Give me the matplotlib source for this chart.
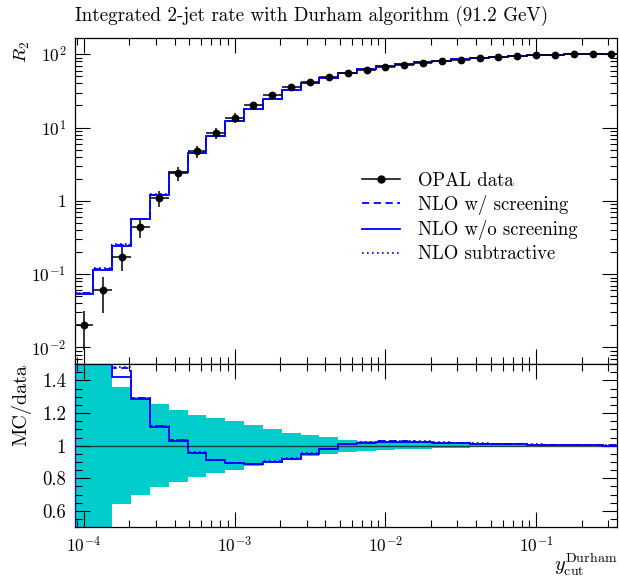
import numpy as np
import matplotlib
matplotlib.use("Agg")
import matplotlib.pyplot as plt
from matplotlib.lines import Line2D
from matplotlib.ticker import FixedLocator, MultipleLocator, LogLocator, NullFormatter

plt.rcParams['font.family'] = 'serif'
plt.rcParams['font.serif'] = ['cmr10']
plt.rcParams['mathtext.fontset'] = 'cm'
plt.rcParams['axes.unicode_minus'] = False
plt.rcParams['axes.formatter.use_mathtext'] = True

# y_cut points (8 per decade)
ycut = [1.00e-4, 1.33e-4, 1.78e-4, 2.37e-4, 3.16e-4, 4.22e-4, 5.62e-4, 7.50e-4,
        1.00e-3, 1.33e-3, 1.78e-3, 2.37e-3, 3.16e-3, 4.22e-3, 5.62e-3, 7.50e-3,
        1.00e-2, 1.33e-2, 1.78e-2, 2.37e-2, 3.16e-2, 4.22e-2, 5.62e-2, 7.50e-2,
        1.00e-1, 1.33e-1, 1.78e-1, 2.37e-1, 3.16e-1]

# OPAL data R2 (%)
data = [0.0203, 0.061, 0.172, 0.44, 1.09, 2.39, 4.76, 8.39, 13.7, 20.0,
        27.4, 35.2, 42.3, 48.3, 55.2, 61.2, 66.6, 71.7, 76.3, 80.5,
        83.9, 87.7, 90.4, 93.3, 96.3, 98.1, 99.4, 100.0, 100.2]
# relative data uncertainty
rel_err = [0.55, 0.52, 0.36, 0.30, 0.255, 0.22, 0.19, 0.17, 0.15, 0.125,
           0.10, 0.08, 0.066, 0.051, 0.037, 0.031, 0.027, 0.023, 0.018, 0.014,
           0.012, 0.010, 0.008, 0.006, 0.005, 0.004, 0.003, 0.002, 0.001]

# MC / data
ratio_w = [2.70, 1.95, 1.475, 1.29, 1.12, 1.033, 0.958, 0.913, 0.893, 0.887,
           0.903, 0.921, 0.952, 0.980, 1.009, 1.019, 1.026, 1.026, 1.024, 1.019,
           1.015, 1.013, 1.011, 1.009, 1.007, 1.005, 1.004, 1.003, 1.002]
ratio_wo = [2.63, 1.88, 1.42, 1.285, 1.117, 1.031, 0.957, 0.912, 0.892, 0.886,
            0.902, 0.920, 0.951, 0.979, 1.008, 1.018, 1.025, 1.025, 1.023, 1.018,
            1.014, 1.012, 1.010, 1.008, 1.006, 1.004, 1.003, 1.002, 1.001]
ratio_sub = [2.72, 1.97, 1.484, 1.292, 1.121, 1.035, 0.960, 0.915, 0.895, 0.889,
             0.905, 0.923, 0.954, 0.982, 1.011, 1.021, 1.028, 1.028, 1.026, 1.021,
             1.017, 1.015, 1.013, 1.011, 1.009, 1.007, 1.005, 1.004, 1.003]

x = np.array(ycut)
d = np.array(data)
err = np.array(rel_err)

# bin edges (geometric midpoints)
lx = np.log10(x)
mid = (lx[1:] + lx[:-1]) / 2
edges = np.concatenate([[lx[0] - (mid[0] - lx[0])], mid, [lx[-1] + (lx[-1] - mid[-1])]])
edges = 10 ** edges

blue = '#0000ff'
band_col = '#00cccc'
styles = [
    (ratio_w, 'NLO w/ screening', (0, (4, 2.5)), 1.3),
    (ratio_wo, 'NLO w/o screening', '-', 1.3),
    (ratio_sub, 'NLO subtractive', (0, (1, 2)), 1.2),
]

fig = plt.figure(figsize=(6.19, 5.78), dpi=100)
ax = fig.add_axes([0.1204, 0.3702, 0.8764, 0.5635])
rax = fig.add_axes([0.1204, 0.0877, 0.8764, 0.2825], sharex=ax)

for r, lab, ls, lw in styles:
    ax.stairs(d * np.array(r), edges, color=blue, linestyle=ls, linewidth=lw, zorder=2)
    rax.stairs(np.array(r), edges, color=blue, linestyle=ls, linewidth=lw, zorder=3)

xerr = [x - edges[:-1], edges[1:] - x]
ax.errorbar(x, d, xerr=xerr, yerr=d * err, fmt='o', color='black', ms=4.6,
            elinewidth=1.1, capsize=0, zorder=4)

ax.set_xscale('log')
ax.set_yscale('log')
ax.set_xlim(edges[0], 0.344)
ax.set_ylim(0.00594, 165)

ax.yaxis.set_major_locator(FixedLocator([1e-2, 1e-1, 1, 10, 100]))
ax.set_yticklabels([r'$10^{-2}$', r'$10^{-1}$', r'$1$', r'$10^{1}$', r'$10^{2}$'])
ax.yaxis.set_minor_locator(LogLocator(base=10, subs=np.arange(2, 10), numticks=20))
ax.yaxis.set_minor_formatter(NullFormatter())
plt.setp(ax.get_xticklabels(), visible=False)

# ratio panel
rax.stairs(1 + err, edges, baseline=1 - err, fill=True, color=band_col,
           linewidth=0, zorder=1)
rax.axhline(1, color='#222222', linewidth=1.0, alpha=0.8, zorder=2)
rax.set_ylim(0.5, 1.5)
rax.yaxis.set_major_locator(FixedLocator([0.6, 0.8, 1.0, 1.2, 1.4]))
rax.set_yticklabels(['0.6', '0.8', '1', '1.2', '1.4'])
rax.yaxis.set_minor_locator(MultipleLocator(0.05))
rax.xaxis.set_major_locator(FixedLocator([1e-4, 1e-3, 1e-2, 1e-1]))
rax.set_xticklabels([r'$10^{-4}$', r'$10^{-3}$', r'$10^{-2}$', r'$10^{-1}$'])
rax.xaxis.set_minor_locator(LogLocator(base=10, subs=np.arange(2, 10), numticks=20))
rax.xaxis.set_minor_formatter(NullFormatter())

for a in (ax, rax):
    a.tick_params(which='both', direction='in', top=True, right=True, width=0.8,
                  labelsize=12.5)
    a.tick_params(which='major', length=11)
    a.tick_params(which='minor', length=5)
    a.tick_params(axis='y', pad=6)
    a.tick_params(axis='x', pad=6)
    for s in a.spines.values():
        s.set_linewidth(0.9)
rax.tick_params(axis='y', labelsize=13.5)

fig.text(0.1204, 0.9637, 'Integrated 2-jet rate with Durham algorithm (91.2 GeV)',
         fontsize=13.7, ha='left', va='baseline')
fig.text(0.020, 0.930, r'$R_2$', rotation=90, fontsize=13.5, ha='left', va='top')
fig.text(0.018, 0.370, 'MC/data', rotation=90, fontsize=14.5, ha='left', va='top')
fig.text(0.997, 0.012, r'$y_{\mathrm{cut}}^{\mathrm{Durham}}$', fontsize=14.5,
         ha='right', va='baseline')

handles = [Line2D([], [], color='black', marker='o', ms=5, lw=1.1)]
labels = ['OPAL data']
for r, lab, ls, lw in styles:
    handles.append(Line2D([], [], color=blue, linestyle=ls, linewidth=lw))
    labels.append(lab)
ax.legend(handles, labels, loc='upper left', bbox_to_anchor=(0.53, 0.59),
          frameon=False, fontsize=13.5, handlelength=2.0, handletextpad=1.0,
          borderpad=0, borderaxespad=0, labelspacing=0.28)

fig.savefig('out.png', dpi=100)
